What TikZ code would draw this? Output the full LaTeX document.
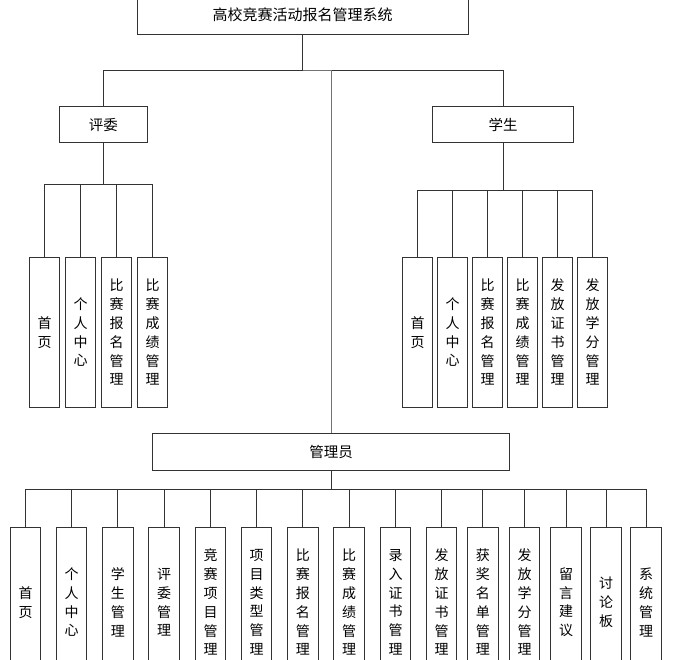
\documentclass[tikz,border=0pt]{standalone}
\usepackage{fontspec}
\setmainfont{Noto Sans CJK SC}
\begin{document}
\begin{tikzpicture}[x=1pt,y=-1pt,
  line/.style={draw=black!80,line width=1pt},
  hbox/.style={draw=black!80,line width=1pt,rectangle,inner sep=0pt,minimum height=36pt,font=\fontsize{14.5}{17}\selectfont},
  vbox/.style={draw=black!80,line width=1pt,rectangle,inner sep=0pt,minimum width=30.5pt,minimum height=150pt,align=center,font=\fontsize{14}{18.8}\selectfont}]
\useasboundingbox (0,0) rectangle (679,659);
\clip (0,0) rectangle (679,659);
\fill[white] (0,0) rectangle (679,659);
% top
\node[hbox,minimum width=331pt,minimum height=38pt,font=\fontsize{15}{17}\selectfont] (top) at (302.5,15) {高校竞赛活动报名管理系统};
\node[hbox,minimum width=88pt] (judge) at (103.3,124.7) {评委};
\node[hbox,minimum width=140.6pt] (student) at (503,124.7) {学生};
\node[hbox,minimum width=356.6pt,minimum height=36.7pt] (admin) at (331,451.7) {管理员};
\coordinate (bus) at (302.5,70.5);
\draw[line] (top.south) -- (bus);
\draw[line] (judge.north) |- (bus);
\draw[line] (student.north) |- (bus);
\draw[line,draw=black!55] (admin.north) |- (bus);
% judge children
\node[vbox] (j1) at (44.5,332.3) {首\\页};
\node[vbox] (j2) at (80.5,332.3) {个\\人\\中\\心};
\node[vbox] (j3) at (116.5,332.3) {比\\赛\\报\\名\\管\\理};
\node[vbox] (j4) at (152.5,332.3) {比\\赛\\成\\绩\\管\\理};
\coordinate (jb) at (103.3,184.7);
\draw[line] (judge.south) -- (jb);
\foreach \n in {j1,j2,j3,j4} \draw[line] (\n.north) |- (jb);
% student children
\node[vbox] (s1) at (417.5,332.3) {首\\页};
\node[vbox] (s2) at (452.5,332.3) {个\\人\\中\\心};
\node[vbox] (s3) at (487.5,332.3) {比\\赛\\报\\名\\管\\理};
\node[vbox] (s4) at (522.5,332.3) {比\\赛\\成\\绩\\管\\理};
\node[vbox] (s5) at (557.5,332.3) {发\\放\\证\\书\\管\\理};
\node[vbox] (s6) at (592.5,332.3) {发\\放\\学\\分\\管\\理};
\coordinate (sb) at (503,190.7);
\draw[line] (student.south) -- (sb);
\foreach \n in {s1,s2,s3,s4,s5,s6} \draw[line] (\n.north) |- (sb);
% admin children
\node[vbox] (a1) at (25.5,602.3) {首\\页};
\node[vbox] (a2) at (71.7,602.3) {个\\人\\中\\心};
\node[vbox] (a3) at (117.8,602.3) {学\\生\\管\\理};
\node[vbox] (a4) at (164.2,602.3) {评\\委\\管\\理};
\node[vbox] (a5) at (210.5,602.3) {竞\\赛\\项\\目\\管\\理};
\node[vbox] (a6) at (256.7,602.3) {项\\目\\类\\型\\管\\理};
\node[vbox] (a7) at (302.8,602.3) {比\\赛\\报\\名\\管\\理};
\node[vbox] (a8) at (349,602.3) {比\\赛\\成\\绩\\管\\理};
\node[vbox] (a9) at (395.5,602.3) {录\\入\\证\\书\\管\\理};
\node[vbox] (a10) at (441.7,602.3) {发\\放\\证\\书\\管\\理};
\node[vbox] (a11) at (482.8,602.3) {获\\奖\\名\\单\\管\\理};
\node[vbox] (a12) at (524.5,602.3) {发\\放\\学\\分\\管\\理};
\node[vbox] (a13) at (566,602.3) {留\\言\\建\\议};
\node[vbox] (a14) at (606,602.3) {讨\\论\\板};
\node[vbox] (a15) at (646.2,602.3) {系\\统\\管\\理};
\coordinate (ab) at (331,489.3);
\draw[line] (admin.south) -- (ab);
\foreach \n in {a1,a2,a3,a4,a5,a6,a7,a8,a9,a10,a11,a12,a13,a14,a15} \draw[line] (\n.north) |- (ab);
\end{tikzpicture}
\end{document}
